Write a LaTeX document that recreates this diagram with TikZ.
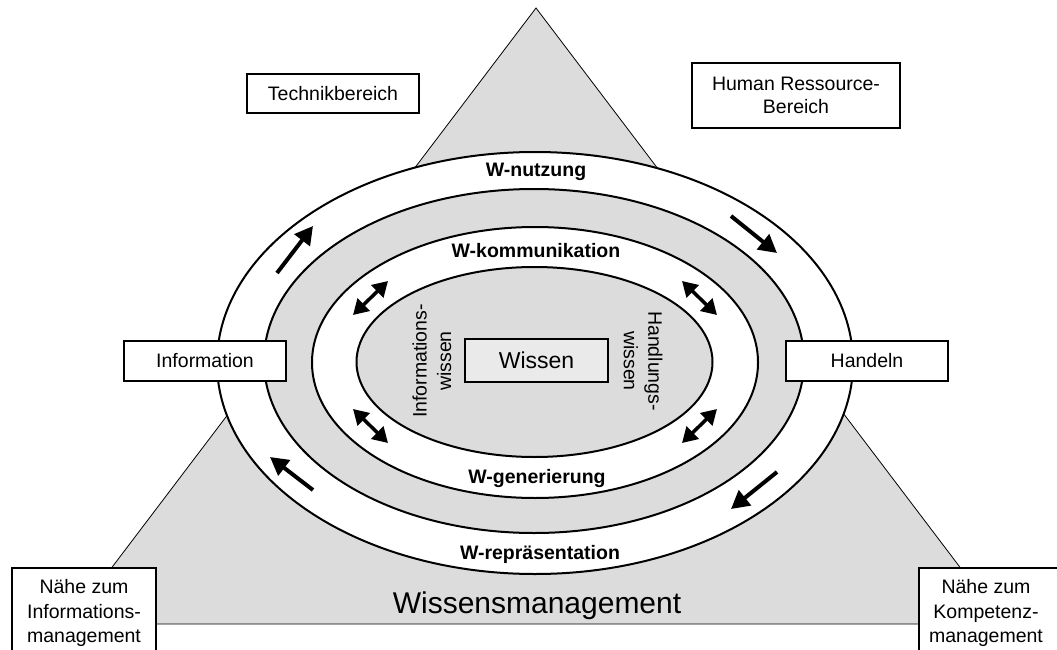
\documentclass[tikz,border=0pt]{standalone}
\usepackage{fontspec}
\setmainfont{Liberation Sans}
\usetikzlibrary{arrows.meta}
\definecolor{ggrey}{HTML}{DCDCDC}
\definecolor{lgrey}{HTML}{EAEAEA}
\tikzset{
  ring/.style={draw=black, line width=2pt},
  labelbox/.style={draw=black, line width=2pt, fill=white, align=center, inner sep=0pt,
     font=\fontsize{19.5}{23.5}\selectfont},
  ringlabel/.style={font=\fontsize{19.5}{23.5}\selectfont\bfseries, inner sep=0pt},
  sidetext/.style={font=\fontsize{19.5}{24.5}\selectfont, align=center, inner sep=0pt},
  onearrow/.style={line width=4pt, -{Triangle[length=18pt,width=19pt]}},
  twoarrow/.style={line width=3.5pt, {Triangle[length=15pt,width=17pt]}-{Triangle[length=15pt,width=17pt]}}
}
\begin{document}
\begin{tikzpicture}[x=1pt,y=-1pt]
\clip (0,0) rectangle (1057,650);
\fill[white] (0,0) rectangle (1057,650);
% triangle
\draw[fill=ggrey, line width=0.8pt] (536,8) -- (1003,624) -- (69,624) -- cycle;
% rings
\draw[ring, fill=white] (535,363) ellipse [x radius=318pt, y radius=211pt];
\draw[ring, fill=ggrey] (534,361) ellipse [x radius=270pt, y radius=172pt];
\draw[ring, fill=white] (535,362.5) ellipse [x radius=223pt, y radius=135.5pt];
\draw[ring, fill=ggrey] (534.5,362) ellipse [x radius=178pt, y radius=95pt];
% ring labels
\node[ringlabel] (nutz) at (536,172) {W-nutzung};
\node[ringlabel] (komm) at (536,251) {W-kommunikation};
\node[ringlabel] (gen) at (537,478) {W-generierung};
\node[ringlabel] (rep) at (540,554) {W-repräsentation};
% center
\node[labelbox, fill=lgrey, minimum width=143pt, minimum height=43pt,
      font=\fontsize{23}{27}\selectfont] (wissen) at (536.5,360.5) {Wissen};
\node[sidetext, rotate=90] (iw) at (432,361) {Informations-\\wissen};
\node[sidetext, rotate=-90] (hw) at (643,361) {Handlungs-\\wissen};
% boxes
\node[labelbox, minimum width=162pt, minimum height=40pt] (info) at (205,361) {Information};
\node[labelbox, minimum width=162pt, minimum height=40pt] (hand) at (867,361) {Handeln};
\node[labelbox, minimum width=172pt, minimum height=39pt] (tech) at (333,93.5) {Technikbereich};
\node[labelbox, minimum width=208pt, minimum height=65pt] (hr) at (796,95.5) {Human Ressource-\\Bereich};
\node[labelbox, minimum width=144pt, minimum height=100pt, anchor=north] (lb) at (84,567) {};
\node[sidetext] (lbt) at (84,613) {Nähe zum\\Informations-\\management};
\node[labelbox, minimum width=144pt, minimum height=100pt, anchor=north] (rb) at (991,567) {};
\node[sidetext] (rbt) at (986,613) {Nähe zum\\Kompetenz-\\management};
\node[font=\fontsize{30}{34}\selectfont, inner sep=0pt] (wm) at (537,606) {Wissensmanagement};
% outer arrows
\coordinate (a1s) at (277,273); \coordinate (a1e) at (313,226);
\coordinate (a2s) at (731,216); \coordinate (a2e) at (777,253);
\coordinate (a3s) at (777,472); \coordinate (a3e) at (731,509);
\coordinate (a4s) at (313,490); \coordinate (a4e) at (270,457);
\draw[onearrow] (a1s) -- (a1e);
\draw[onearrow] (a2s) -- (a2e);
\draw[onearrow] (a3s) -- (a3e);
\draw[onearrow] (a4s) -- (a4e);
% inner double arrows
\coordinate (d1s) at (353,315); \coordinate (d1e) at (388,281);
\coordinate (d2s) at (682,281); \coordinate (d2e) at (717,315);
\coordinate (d3s) at (682,443); \coordinate (d3e) at (717,409);
\coordinate (d4s) at (353,409); \coordinate (d4e) at (388,443);
\draw[twoarrow] (d1s) -- (d1e);
\draw[twoarrow] (d2s) -- (d2e);
\draw[twoarrow] (d3s) -- (d3e);
\draw[twoarrow] (d4s) -- (d4e);
\end{tikzpicture}
\end{document}
